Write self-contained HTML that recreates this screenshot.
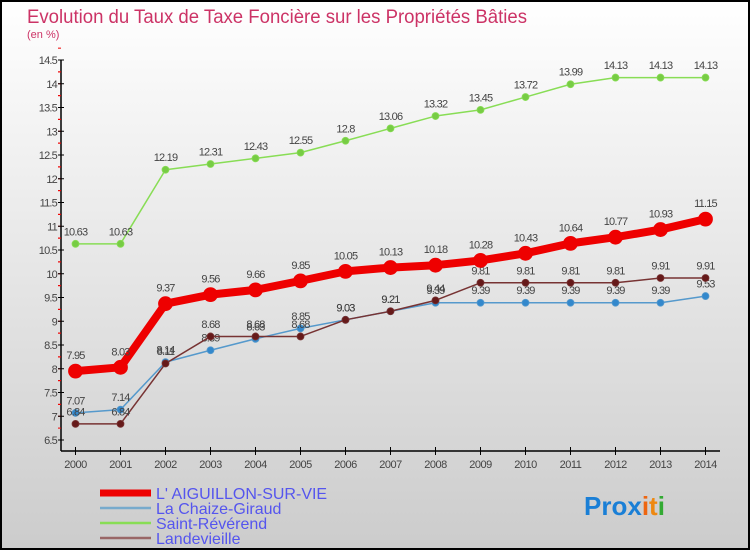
<!DOCTYPE html>
<html><head><meta charset="utf-8"><style>
body{margin:0;width:750px;height:550px;overflow:hidden;font-family:"Liberation Sans",sans-serif}
svg{display:block}
</style></head><body>
<svg id="chart" width="750" height="550" xmlns="http://www.w3.org/2000/svg">
<defs><linearGradient id="bg" x1="0" y1="0" x2="0" y2="1"><stop offset="0" stop-color="#ffffff"/><stop offset="1" stop-color="#cccccc"/></linearGradient></defs>
<rect x="0" y="0" width="750" height="550" fill="url(#bg)"/>
<rect x="1" y="1" width="748" height="548" fill="none" stroke="#000" stroke-width="2"/>
<text x="27" y="23" font-size="19" fill="#cc3366" textLength="500" lengthAdjust="spacingAndGlyphs">Evolution du Taux de Taxe Foncière sur les Propriétés Bâties</text>
<text x="27" y="38" font-size="11" fill="#cc3366">(en %)</text>
<g id="axes"></g>
<g id="series"></g>
<g id="legend"></g>
<text x="584" y="515" font-size="26" font-weight="bold" fill="#1a7fd6">Pro<tspan fill="#1a7fd6">x</tspan><tspan fill="#ee6611">i</tspan><tspan fill="#ee8811">t</tspan><tspan fill="#33aa33">i</tspan></text>
</svg>
<script>
const years=[2000,2001,2002,2003,2004,2005,2006,2007,2008,2009,2010,2011,2012,2013,2014];
const yTicks=[6.5,7,7.5,8,8.5,9,9.5,10,10.5,11,11.5,12,12.5,13,13.5,14,14.5];
const aiguillon=[7.95,8.03,9.37,9.56,9.66,9.85,10.05,10.13,10.18,10.28,10.43,10.64,10.77,10.93,11.15];
const chaize=[7.07,7.14,8.14,8.39,8.63,8.85,9.03,9.21,9.39,9.39,9.39,9.39,9.39,9.39,9.53];
const reverend=[10.63,10.63,12.19,12.31,12.43,12.55,12.8,13.06,13.32,13.45,13.72,13.99,14.13,14.13,14.13];
const landevieille=[6.84,6.84,8.11,8.68,8.68,8.68,9.03,9.21,9.44,9.81,9.81,9.81,9.81,9.91,9.91];
const seriesNames=["L' AIGUILLON-SUR-VIE","La Chaize-Giraud","Saint-Révérend","Landevieille"];

const NS="http://www.w3.org/2000/svg";
const yMin=6.5,yMax=14.5,yTop=60,yBot=440;
function yScale(v){return yBot-(v-yMin)/(yMax-yMin)*(yBot-yTop);}
function xScale(i){return 75.5+i*45;}
function mk(tag,attrs,parent){const e=document.createElementNS(NS,tag);for(const k in attrs)e.setAttribute(k,attrs[k]);parent.appendChild(e);return e;}
const axes=document.getElementById('axes');
const ax=mk('line',{x1:61,y1:60,x2:61,y2:451,stroke:'#000','stroke-width':1.5},axes);


const xx=mk('line',{x1:61,y1:451,x2:720,y2:451,stroke:'#000','stroke-width':1.5},axes);


yTicks.forEach((v,i)=>{
  const y=yScale(v);
  mk('line',{x1:58,y1:y,x2:64,y2:y,stroke:'#000'},axes);
  if(i<yTicks.length-1){mk('line',{x1:58,y1:y-11.9,x2:61,y2:y-11.9,stroke:'#e00'},axes);mk('line',{x1:58,y1:y-23.75,x2:61,y2:y-23.75,stroke:'#e00'},axes);mk('line',{x1:58,y1:y-35.6,x2:61,y2:y-35.6,stroke:'#e00'},axes);}
  const t=mk('text',{x:57,y:y+4,'font-size':11,fill:'#444','text-anchor':'end','letter-spacing':'-0.8'},axes);
  t.textContent=String(v);
  
  
});
years.forEach((yr,i)=>{
  const x=xScale(i);
  mk('line',{x1:x,y1:447,x2:x,y2:455,stroke:'#000'},axes);
  const t=mk('text',{x:x,y:468,'font-size':11,fill:'#444','text-anchor':'middle','letter-spacing':'-0.5'},axes);
  t.textContent=String(yr);
  
  
});
const sg=document.getElementById('series');
function drawSeries(vals,color,width,r,dotFill,name){
  const g=mk('g',{},sg);
  
  
  mk('polyline',{points:vals.map((v,i)=>xScale(i)+','+yScale(v)).join(' '),fill:'none',stroke:color,'stroke-width':width,'stroke-linejoin':'round'},g);
  vals.forEach((v,i)=>{
    const c=mk('circle',{cx:xScale(i),cy:yScale(v),r:r,fill:dotFill,stroke:color,'stroke-width':0.8},g);
    
    
    const t=mk('text',{x:xScale(i),y:yScale(v)-r-5,'font-size':11,fill:'#444','text-anchor':'middle','letter-spacing':'-0.8'},g);
    t.textContent=String(v);
    
    
  });
}
drawSeries(reverend,'#88dd55',1.5,3.5,'#77cc44','series-saint-reverend');
drawSeries(chaize,'#5599cc',1.5,3.5,'#3388cc','series-la-chaize-giraud');
drawSeries(landevieille,'#773333',1.5,3.5,'#661a1a','series-landevieille');
drawSeries(aiguillon,'#ee0000',8,7,'#ee0000','series-aiguillon-sur-vie');
const lg=document.getElementById('legend');
const lc=['#ee0000','#77aacc','#88dd55','#996666'];
const lw=[7,2.5,2.5,2.5];
seriesNames.forEach((n,i)=>{
  const y=493+i*15;
  const l=mk('line',{x1:100,y1:y,x2:151,y2:y,stroke:lc[i],'stroke-width':lw[i]},lg);
  
  
  const t=mk('text',{x:156,y:y+6,'font-size':16,fill:'#5555ee'},lg);
  t.textContent=n;
  
  
});
</script>
</body></html>
